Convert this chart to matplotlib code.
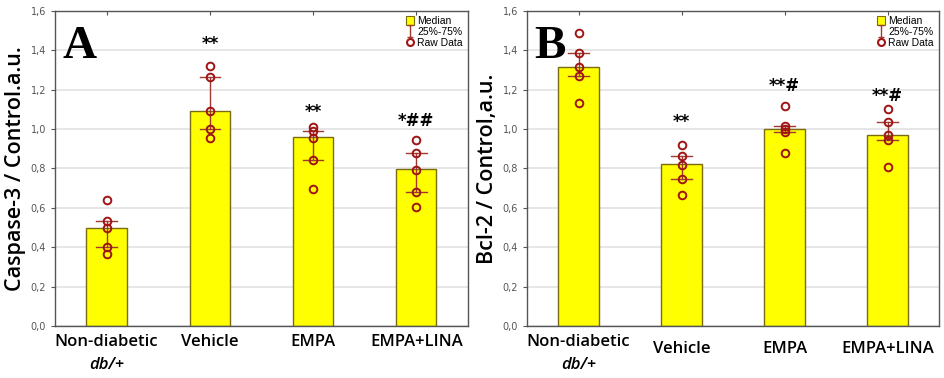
import matplotlib
matplotlib.use("Agg")
import matplotlib.pyplot as plt
from matplotlib.patches import Patch
from matplotlib.lines import Line2D
from matplotlib.path import Path
from matplotlib.ticker import FuncFormatter
from matplotlib.transforms import ScaledTranslation

groups = ["Non-diabetic", "Vehicle", "EMPA", "EMPA+LINA"]
yticks = [0.0, 0.2, 0.4, 0.6, 0.8, 1.0, 1.2, 1.4, 1.6]

# panel A - Caspase-3
casp_median = [0.50, 1.09, 0.96, 0.795]
casp_q25 = [0.40, 1.00, 0.843, 0.678]
casp_q75 = [0.535, 1.265, 0.99, 0.881]
casp_raw = [
    [0.640, 0.535, 0.497, 0.401, 0.365],
    [1.323, 1.265, 1.090, 1.000, 0.954],
    [1.012, 0.990, 0.957, 0.843, 0.697],
    [0.945, 0.881, 0.790, 0.678, 0.605],
]
casp_stars = ["", "**", "**", "*##"]
casp_star_y = [0, 1.43, 1.085, 1.04]

# panel B - Bcl-2
bcl_median = [1.316, 0.822, 1.003, 0.969]
bcl_q25 = [1.268, 0.746, 0.983, 0.944]
bcl_q75 = [1.387, 0.863, 1.015, 1.037]
bcl_raw = [
    [1.490, 1.387, 1.316, 1.268, 1.135],
    [0.920, 0.863, 0.820, 0.746, 0.663],
    [1.115, 1.015, 1.001, 0.983, 0.881],
    [1.104, 1.037, 0.969, 0.944, 0.810],
]
bcl_stars = ["", "**", "**#", "**#"]
bcl_star_y = [0, 1.035, 1.22, 1.17]

BAR = "#ffff00"
BAR_EDGE = "#7a6a10"
RED = "#a01414"
WHISK = "#a03a30"

ibeam = Path([(-0.5, 1), (0.5, 1), (0, 1), (0, -1), (-0.5, -1), (0.5, -1)],
             [Path.MOVETO, Path.LINETO, Path.MOVETO, Path.LINETO, Path.MOVETO, Path.LINETO])


def panel(ax, letter, ylabel, med, q25, q75, raw, stars, star_y, shift_single):
    x = list(range(len(groups)))
    ax.set_axisbelow(True)
    ax.grid(axis="y", color="#e2e2e2", lw=1.2)
    ax.bar(x, med, width=0.39, color=BAR, edgecolor=BAR_EDGE, lw=1.0, zorder=2)
    for i in x:
        ax.plot([i, i], [q25[i], q75[i]], color=WHISK, lw=1.0, zorder=3)
        for q in (q25[i], q75[i]):
            ax.plot([i - 0.1, i + 0.1], [q, q], color=WHISK, lw=1.0, zorder=3)
        ax.plot([i] * len(raw[i]), raw[i], "o", ms=5.5, mfc="none", mec=RED, mew=1.4, zorder=4)
        if stars[i]:
            ax.text(i, star_y[i], stars[i], ha="center", va="center", fontsize=12,
                    fontweight="bold", family="DejaVu Sans", zorder=5)

    ax.set_xlim(-0.5, 3.5)
    ax.set_ylim(0, 1.6)
    ax.set_yticks(yticks)
    ax.yaxis.set_major_formatter(FuncFormatter(lambda v, p: f"{v:.1f}".replace(".", ",")))
    ax.tick_params(axis="y", labelsize=7, labelcolor="#555555", length=3, color="#555555", width=0.8)
    ax.set_xticks(x)
    ax.set_xticklabels(groups, family="Open Sans", fontweight="semibold", fontsize=12)
    ax.tick_params(axis="x", direction="in", top=True, length=3, color="#555555", pad=6)
    for s in ax.spines.values():
        s.set_color("#555555")
        s.set_linewidth(1.0)

    if shift_single:
        fig = ax.figure
        for lab in ax.get_xticklabels()[1:]:
            lab.set_transform(lab.get_transform() + ScaledTranslation(0, -5 / 72, fig.dpi_scale_trans))

    ax.text(0, -0.098, "db/+", transform=ax.get_xaxis_transform(), ha="center", va="top",
            family="Open Sans", fontweight="semibold", fontstyle="italic", fontsize=12)

    ax.set_ylabel(ylabel, family="Open Sans", fontweight="semibold", fontsize=15.5, labelpad=3)

    ax.text(0.018, 0.85, letter, transform=ax.transAxes, family="Liberation Serif",
            fontweight="bold", fontsize=34, ha="left", va="baseline")

    handles = [
        Patch(facecolor=BAR, edgecolor=BAR_EDGE, lw=0.8, label="Median"),
        Line2D([0], [0], ls="none", marker=ibeam, ms=8, mec=WHISK, mew=1.0, label="25%-75%"),
        Line2D([0], [0], ls="none", marker="o", ms=5, mfc="none", mec=RED, mew=1.5, label="Raw Data"),
    ]
    ax.legend(handles=handles, loc="upper right", frameon=False,
              handlelength=0.8, handleheight=1.0, handletextpad=0.3, labelspacing=0.05,
              borderaxespad=0.3, borderpad=0.2, prop={"family": "Liberation Sans", "size": 7.5})


fig = plt.figure(figsize=(9.45, 3.78), dpi=100)
axA = fig.add_axes([0.0582, 0.1376, 0.437, 0.8334])
axB = fig.add_axes([0.5577, 0.1376, 0.436, 0.8334])

panel(axA, "A", "Caspase-3 / Control.a.u.", casp_median, casp_q25, casp_q75, casp_raw,
      casp_stars, casp_star_y, False)
panel(axB, "B", "Bcl-2 / Control,a.u.", bcl_median, bcl_q25, bcl_q75, bcl_raw,
      bcl_stars, bcl_star_y, True)

fig.savefig("out.png", dpi=100)
